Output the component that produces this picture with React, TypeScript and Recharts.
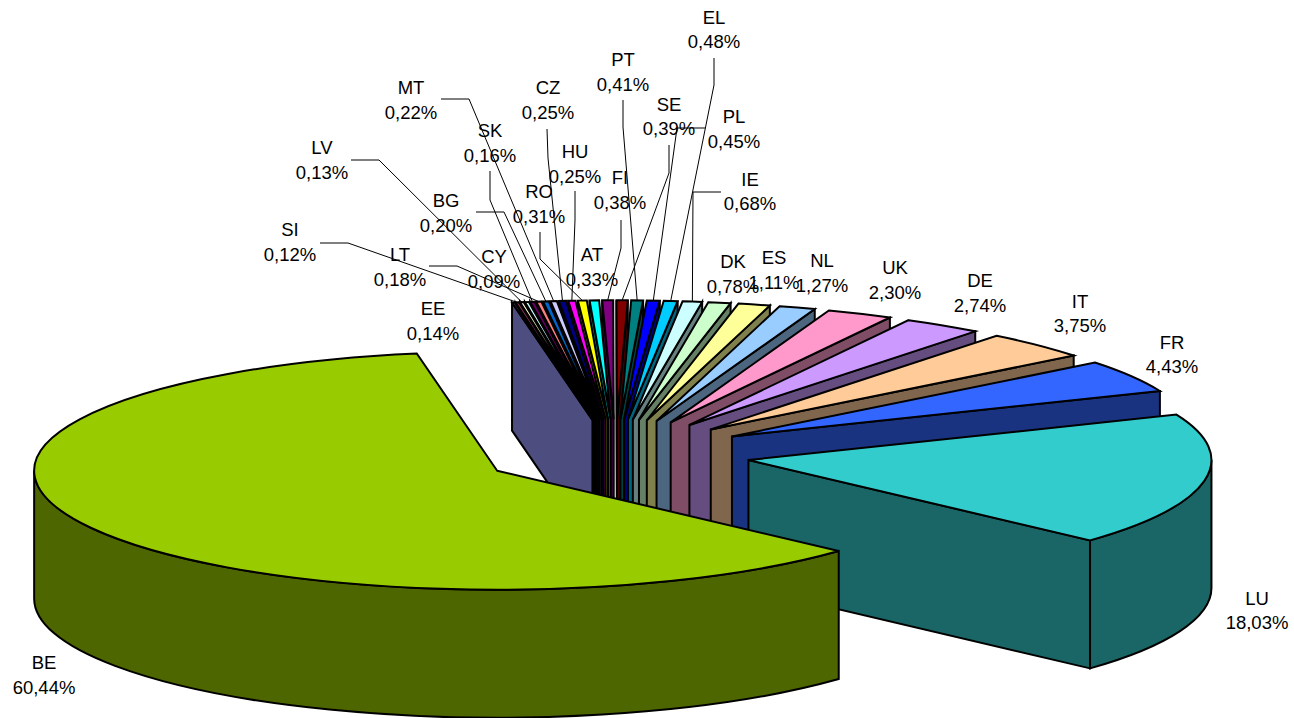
import { Pie, PieChart } from 'recharts'

// clockwise from the back of the pie
const countries = ['CY', 'SI', 'LV', 'EE', 'SK', 'LT', 'BG', 'MT', 'CZ', 'HU', 'RO', 'AT', 'FI', 'SE', 'PT', 'PL', 'EL', 'IE', 'DK', 'ES', 'NL', 'UK', 'DE', 'IT', 'FR', 'LU', 'BE']
const shares = [0.09, 0.12, 0.13, 0.14, 0.16, 0.18, 0.2, 0.22, 0.25, 0.25, 0.31, 0.33, 0.38, 0.39, 0.41, 0.45, 0.48, 0.68, 0.78, 1.11, 1.27, 2.3, 2.74, 3.75, 4.43, 18.03, 60.44]
const colors = ['#9999FF', '#993366', '#FFFFCC', '#CCFFFF', '#660066', '#FF8080', '#0066CC', '#CCCCFF', '#000080', '#FF00FF', '#FFFF00', '#00FFFF', '#800080', '#800000', '#008080', '#0000FF', '#00CCFF', '#CCFFFF', '#CCFFCC', '#FFFF99', '#99CCFF', '#FF99CC', '#CC99FF', '#FFCC99', '#3366FF', '#33CCCC', '#99CC00']

const rows = countries.map((name, i) => ({ name, value: shares[i], fill: colors[i] }))
const rowsReversed = [...rows].reverse()

// label centre, name line
const labelPlaces: Record<string, [number, number]> = {
  CY: [494, 256.5], SI: [290, 229.5], LV: [322, 147.5], EE: [433, 308.5], SK: [490, 130.5], LT: [400, 254.5], BG: [446, 200.5],
  MT: [411, 87.5], CZ: [548, 87.5], HU: [575, 151.5], RO: [539, 191.5], AT: [592, 254.5], FI: [620, 177.5], SE: [669, 104],
  PT: [623, 59.5], PL: [734, 116.5], EL: [714, 17], IE: [750, 179], DK: [733, 261.5], ES: [774, 257.5], NL: [822, 260.5],
  UK: [895, 267.5], DE: [980, 280.5], IT: [1080, 301], FR: [1172, 342], LU: [1257, 598], BE: [44, 662.5],
}

// leader line start and bend, the end is on the slice
const leaders: Record<string, [number, number, number, number]> = {
  SI: [320, 243, 348, 243], LT: [429, 266, 457, 266], LV: [351, 160, 379, 160], MT: [441, 99, 469, 99],
  BG: [476, 212, 504, 212], SK: [490, 171, 490, 200], RO: [540, 232, 540, 259], CZ: [547, 129, 548, 158],
  HU: [575, 191, 575, 220], FI: [621, 220, 621, 248], SE: [669, 145, 669, 173], PT: [623, 100, 623, 127],
  PL: [705, 128, 677, 128], EL: [714, 58, 714, 85], IE: [721, 192, 693, 192],
}

const CX = 615.5
const CY = 454
const RADIUS = 463
const SQUASH = 0.257
const DEPTH = 128
const EXPLODE = 0.2916
const START = 100
const RAD = Math.PI / 180

function darken(hex: string) {
  const n = parseInt(hex.slice(1), 16)
  const half = (v: number) => Math.round(v * 0.5)
  return `rgb(${half((n >> 16) & 255)},${half((n >> 8) & 255)},${half(n & 255)})`
}

function apexOf(cx: number, cy: number, r: number, mid: number) {
  return [cx + EXPLODE * r * Math.cos(mid * RAD), cy - EXPLODE * r * SQUASH * Math.sin(mid * RAD)]
}

function Slice3D(props: any) {
  const { cx, cy, outerRadius: r, startAngle, endAngle, fill } = props
  const hi = Math.max(startAngle, endAngle)
  const lo = Math.min(startAngle, endAngle)
  const mid = (hi + lo) / 2
  const [ax, ay] = apexOf(cx, cy, r, mid)
  const ry = r * SQUASH
  const at = (a: number, drop = 0) => `${ax + r * Math.cos(a * RAD)} ${ay - ry * Math.sin(a * RAD) + drop}`
  const arc = (sweep: number, large: number, end: string) => `A ${r} ${ry} 0 ${large} ${sweep} ${end}`
  const dark = darken(fill)
  const wallProps = { fill: dark, stroke: '#000', strokeWidth: 2 }
  const wall = (a: number) => `M ${ax} ${ay} L ${at(a)} L ${at(a, DEPTH)} L ${ax} ${ay + DEPTH} Z`
  const frontHi = Math.min(hi, 0)
  const frontLo = Math.max(lo, -180)
  return (
    <g>
      {Math.cos(hi * RAD) < 0 ? <path d={wall(hi)} {...wallProps} /> : null}
      {Math.cos(lo * RAD) > 0 ? <path d={wall(lo)} {...wallProps} /> : null}
      {frontHi > frontLo ? (
        <path
          d={`M ${at(frontHi)} ${arc(1, 0, at(frontLo))} L ${at(frontLo, DEPTH)} ${arc(0, 0, at(frontHi, DEPTH))} Z`}
          {...wallProps}
        />
      ) : null}
      <path
        d={`M ${ax} ${ay} L ${at(hi)} ${arc(1, hi - lo > 180 ? 1 : 0, at(lo))} Z`}
        fill={fill}
        stroke="#000"
        strokeWidth={2}
      />
    </g>
  )
}

const leftSlices = (props: any) => (props.midAngle > 90 ? <Slice3D {...props} /> : <g />)
const rightSlices = (props: any) => (props.midAngle > 90 ? <g /> : <Slice3D {...props} />)

function SliceLabel(props: any) {
  const { cx, cy, outerRadius: r, startAngle, endAngle, name, value } = props
  const [x, y] = labelPlaces[name]
  const lead = leaders[name]
  const mid = (startAngle + endAngle) / 2
  const [ax, ay] = apexOf(cx, cy, r, mid)
  const tipX = ax + r * Math.cos(mid * RAD)
  const tipY = ay - r * SQUASH * Math.sin(mid * RAD)
  return (
    <g>
      {lead ? (
        <polyline
          points={`${lead[0]},${lead[1]} ${lead[2]},${lead[3]} ${tipX},${tipY}`}
          fill="none"
          stroke="#000"
          strokeWidth={1}
        />
      ) : null}
      <text x={x} y={y} textAnchor="middle" dominantBaseline="central" fontFamily="Liberation Sans" fontSize={18.5} fill="#000">
        {name}
      </text>
      <text x={x} y={y + 24.5} textAnchor="middle" dominantBaseline="central" fontFamily="Liberation Sans" fontSize={18.5} fill="#000">
        {value.toFixed(2).replace('.', ',')}%
      </text>
    </g>
  )
}

export default function App() {
  return (
    <div style={{ position: 'absolute', left: 0, top: 0, width: 1294, height: 718, background: '#fff' }}>
      <PieChart width={1294} height={718} margin={{ top: 0, right: 0, bottom: 0, left: 0 }}>
        <Pie
          data={rowsReversed}
          dataKey="value"
          nameKey="name"
          cx={CX}
          cy={CY}
          outerRadius={RADIUS}
          startAngle={START - 360}
          endAngle={START}
          shape={leftSlices}
          isAnimationActive={false}
        />
        <Pie
          data={rows}
          dataKey="value"
          nameKey="name"
          cx={CX}
          cy={CY}
          outerRadius={RADIUS}
          startAngle={START}
          endAngle={START - 360}
          shape={rightSlices}
          label={SliceLabel}
          labelLine={false}
          isAnimationActive={false}
        />
      </PieChart>
    </div>
  )
}
